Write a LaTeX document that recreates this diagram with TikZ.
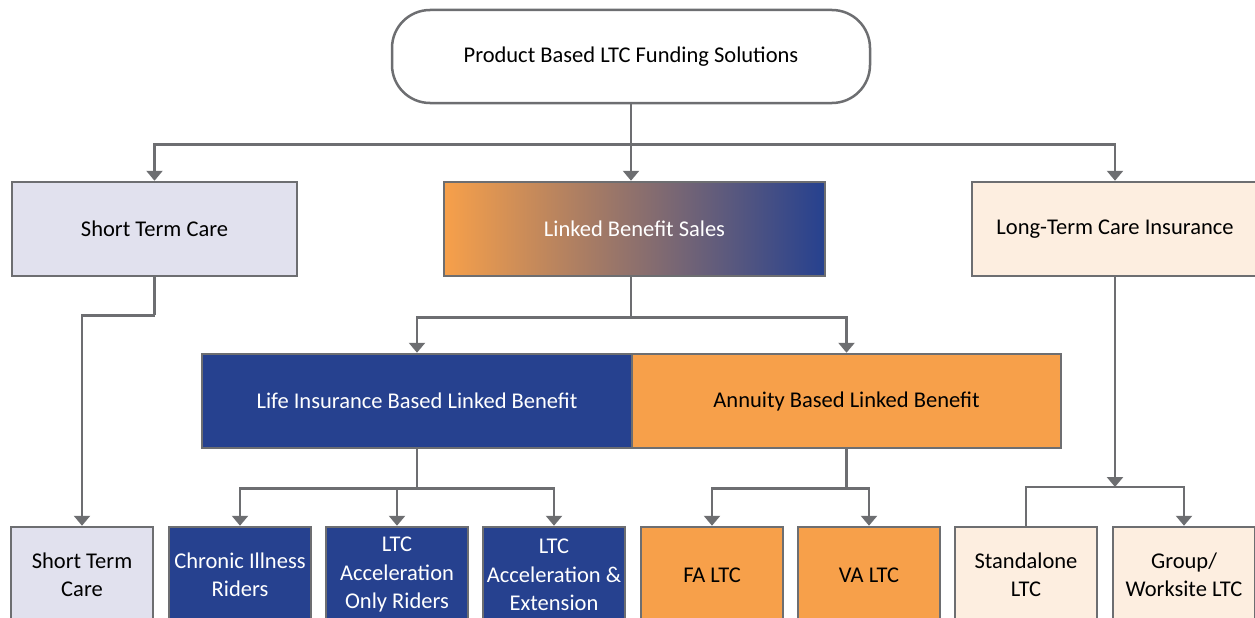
\documentclass[tikz,border=0pt]{standalone}
\usepackage{fontspec}
\setmainfont{Carlito}
\usetikzlibrary{arrows.meta}
\definecolor{lnk}{HTML}{6D6E71}
\definecolor{dblue}{HTML}{26418F}
\definecolor{orng}{HTML}{F7A04A}
\definecolor{lav}{HTML}{E1E1EE}
\definecolor{peach}{HTML}{FDEEE0}
\begin{document}
\begin{tikzpicture}[x=1pt,y=-1pt,
  box/.style={draw=lnk, line width=2.5pt, align=center, inner sep=2pt, font=\fontsize{22.5}{28.5}\selectfont},
  conn/.style={draw=lnk, line width=2.5pt},
  arr/.style={conn, -{Triangle[width=16pt,length=10pt]}},
  bot/.style={box, minimum width=142pt, minimum height=96pt}]
\useasboundingbox (0,0) rectangle (1255,618);
\clip (0,0) rectangle (1255,618);
\node[box, fill=white, rounded corners=38pt, minimum width=478pt, minimum height=93pt] (top) at (631,56.5) {Product Based LTC Funding Solutions};
\node[box, fill=lav, minimum width=285pt, minimum height=94pt] (stc) at (154.5,229) {Short Term Care};
\node[box, left color=orng, right color=dblue, text=white, minimum width=381pt, minimum height=94pt] (lbs) at (634.5,229) {Linked Benefit Sales};
\node[box, fill=peach, minimum width=286pt, minimum height=94pt] (ltci) at (1115,229) {Long-Term Care Insurance};
\node[box, fill=dblue, text=white, minimum width=430pt, minimum height=94pt] (lib) at (417,401) {Life Insurance Based Linked Benefit};
\node[box, fill=orng, minimum width=429pt, minimum height=94pt] (abl) at (846.5,401) {Annuity Based Linked Benefit};
\node[bot, fill=lav] (stc2) at (82,575) {Short Term\\Care};
\node[bot, fill=dblue, text=white] (chr) at (240,575) {Chronic Illness\\Riders};
\node[bot, fill=dblue, text=white] (acc) at (397,575) {LTC\\Acceleration\\Only Riders};
\node[bot, fill=dblue, text=white] (ext) at (554,575) {LTC\\Acceleration \&\\Extension};
\node[bot, fill=orng] (fa) at (712,575) {FA LTC};
\node[bot, fill=orng] (va) at (869,575) {VA LTC};
\node[bot, fill=peach] (sta) at (1026,575) {Standalone\\LTC};
\node[bot, fill=peach] (grp) at (1184,575) {Group/\\Worksite LTC};
% connectors
\draw[conn] (top.south) -- ++(0,40) coordinate (j1);
\draw[arr] (j1) -| (stc.north);
\draw[arr] (j1) -- (top.south |- lbs.north);
\draw[arr] (j1) -| (ltci.north);
\draw[conn] (stc.south) -- ++(0,38) coordinate (j2);
\draw[arr] (j2) -| (stc2.north);
\draw[conn] (top.south |- lbs.south) -- ++(0,40) coordinate (j3);
\draw[arr] (j3) -| (lib.north);
\draw[arr] (j3) -| (abl.north);
\draw[conn] (lib.south) -- ++(0,39) coordinate (j4);
\draw[arr] (j4) -| (chr.north);
\draw[arr] (j4) -| (acc.north);
\draw[arr] (j4) -| (ext.north);
\draw[conn] (abl.south) -- ++(0,39) coordinate (j5);
\draw[arr] (j5) -| (fa.north);
\draw[arr] (j5) -| (va.north);
\coordinate (j6) at (ltci.south |- 0,487);
\draw[arr] (ltci.south) -- (j6);
\draw[conn] (sta.north) |- (j6);
\draw[arr] (j6) -| (grp.north);
\end{tikzpicture}
\end{document}
